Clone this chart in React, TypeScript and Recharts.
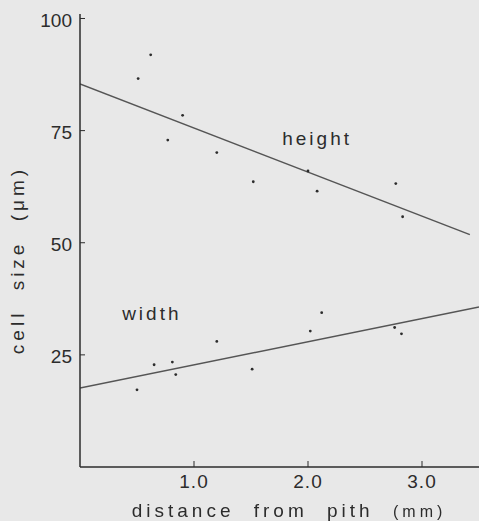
import * as React from "react"
import {
  ComposedChart,
  Line,
  Scatter,
  XAxis,
  YAxis,
  ReferenceDot,
  Label,
} from "recharts"

// measured points, distance from pith (mm) vs cell size (µm)
const heightX = [0.51, 0.62, 0.77, 0.9, 1.2, 1.52, 2.0, 2.08, 2.77, 2.83]
const heightY = [86.6, 91.9, 72.9, 78.4, 70.1, 63.6, 66.0, 61.5, 63.2, 55.8]
const widthX = [0.5, 0.65, 0.81, 0.84, 1.2, 1.51, 2.02, 2.12, 2.76, 2.82]
const widthY = [17.2, 22.8, 23.4, 20.6, 28.0, 21.8, 30.3, 34.4, 31.1, 29.7]

// fitted regression lines (end points)
const heightFitX = [0, 3.42]
const heightFitY = [85.4, 51.8]
const widthFitX = [0, 3.5]
const widthFitY = [17.6, 35.7]

const xTicks = [1, 2, 3]
const yTicks = [25, 50, 75, 100]

const zip = (xs: number[], ys: number[]) => xs.map((x, i) => ({ x, y: ys[i] }))

const heightPts = zip(heightX, heightY)
const widthPts = zip(widthX, widthY)
const heightFit = zip(heightFitX, heightFitY)
const widthFit = zip(widthFitX, widthFitY)

const INK = "#2c2c2c"
const LINE = "#555555"
const FONT = "'Liberation Sans', Arial, sans-serif"
const TICK_MARGIN = 8

const YTick = ({ x, y, payload }: any) => (
  <g>
    <line x1={x + TICK_MARGIN} x2={x + TICK_MARGIN + 5} y1={y} y2={y} stroke={INK} strokeWidth={1} />
    <text x={x} y={y + 2} textAnchor="end" dominantBaseline="central" fill={INK} fontSize={19} fontFamily={FONT}>
      {payload.value}
    </text>
  </g>
)

const XTick = ({ x, y, payload }: any) => (
  <g>
    <line x1={x} x2={x} y1={y - TICK_MARGIN} y2={y - TICK_MARGIN - 6} stroke={INK} strokeWidth={1} />
    <text x={x} y={y + 6} textAnchor="middle" dominantBaseline="central" fill={INK} fontSize={19} fontFamily={FONT} letterSpacing={1}>
      {payload.value.toFixed(1)}
    </text>
  </g>
)

const Dot = ({ cx, cy }: any) => <circle cx={cx} cy={cy} r={1.4} fill={INK} />

export default function App() {
  return (
    <div style={{ position: "fixed", left: 0, top: 0, width: 479, height: 521, background: "#e8e8e8", fontFamily: FONT, color: INK }}>
      <ComposedChart width={479} height={521} margin={{ top: 14, right: 0, left: 0, bottom: 0 }}>
        <XAxis
          type="number"
          dataKey="x"
          domain={[0, 3.5]}
          ticks={xTicks}
          height={54}
          tickSize={0}
          tickMargin={TICK_MARGIN}
          tick={<XTick />}
          axisLine={{ stroke: INK, strokeWidth: 1.5 }}
          allowDataOverflow
        />
        <YAxis
          type="number"
          dataKey="y"
          domain={[0, 101]}
          ticks={yTicks}
          width={80}
          tickSize={0}
          tickMargin={TICK_MARGIN}
          tick={<YTick />}
          axisLine={{ stroke: INK, strokeWidth: 1.5 }}
          allowDataOverflow
        />
        <Line data={heightFit} dataKey="y" stroke={LINE} strokeWidth={1.5} dot={false} activeDot={false} isAnimationActive={false} />
        <Line data={widthFit} dataKey="y" stroke={LINE} strokeWidth={1.5} dot={false} activeDot={false} isAnimationActive={false} />
        <Scatter data={heightPts} dataKey="y" shape={<Dot />} isAnimationActive={false} />
        <Scatter data={widthPts} dataKey="y" shape={<Dot />} isAnimationActive={false} />
        <ReferenceDot x={2.08} y={73.4} r={0} stroke="none" fill="none">
          <Label value="height" position="center" fill={INK} fontSize={19} fontFamily={FONT} style={{ letterSpacing: 3 }} />
        </ReferenceDot>
        <ReferenceDot x={0.63} y={34.2} r={0} stroke="none" fill="none">
          <Label value="width" position="center" fill={INK} fontSize={19} fontFamily={FONT} style={{ letterSpacing: 3 }} />
        </ReferenceDot>
      </ComposedChart>
      <div
        style={{
          position: "absolute",
          left: 18,
          top: 260,
          transform: "translate(-50%, -50%) rotate(-90deg)",
          whiteSpace: "nowrap",
          fontSize: 19,
          letterSpacing: 4,
          wordSpacing: 10,
        }}
      >
        cell size (μm)
      </div>
      <div
        style={{
          position: "absolute",
          left: 289,
          top: 511,
          transform: "translate(-50%, -50%)",
          whiteSpace: "nowrap",
          fontSize: 19,
          letterSpacing: 4,
          wordSpacing: 10,
        }}
      >
        distance from pith <span style={{ fontSize: 16 }}>(mm)</span>
      </div>
    </div>
  )
}
